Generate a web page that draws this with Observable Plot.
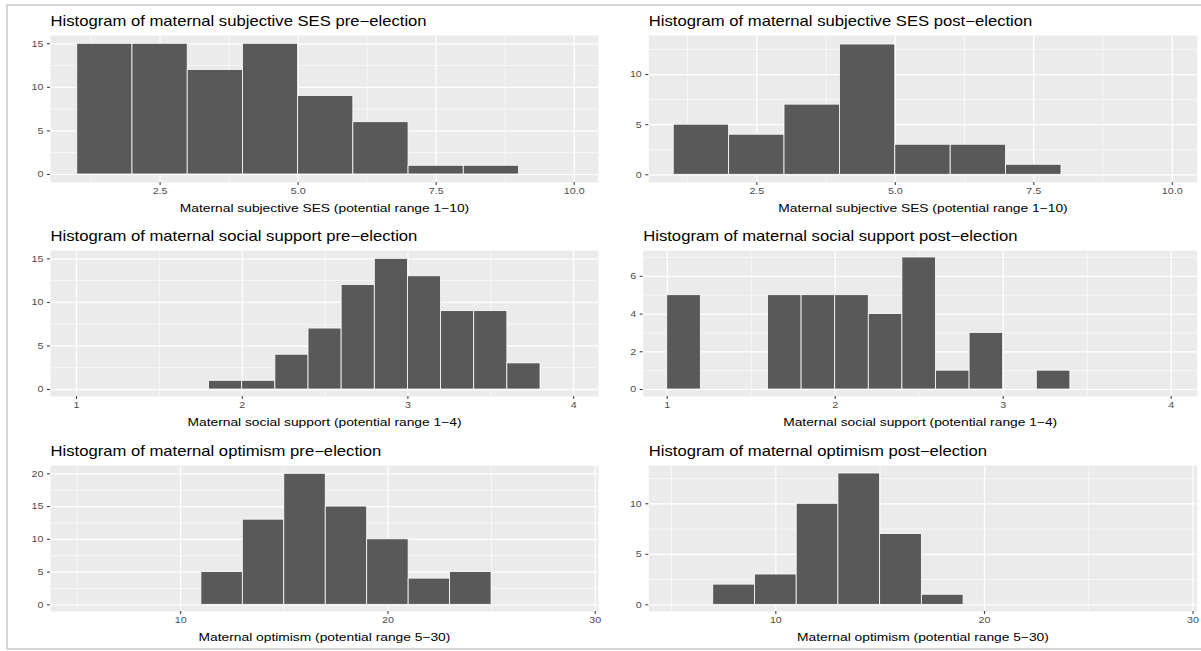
<!DOCTYPE html>
<html><head><meta charset="utf-8">
<script src="https://cdn.jsdelivr.net/npm/d3@7"></script>
<script src="https://cdn.jsdelivr.net/npm/@observablehq/plot@0.6"></script>
<style>
body{margin:0;background:#fff;overflow:hidden;width:1201px;height:651px;position:relative;font-family:"Liberation Sans",Arial,sans-serif;}
#frame{position:absolute;left:6px;top:4px;width:1300px;height:646px;border:2px solid #d6d6d6;box-sizing:border-box;}
.panel{position:absolute;}
</style></head><body>
<div id="frame"></div>
<script>
// ---- data ----
const titles = [
  "Histogram of maternal subjective SES pre\u2212election",
  "Histogram of maternal subjective SES post\u2212election",
  "Histogram of maternal social support pre\u2212election",
  "Histogram of maternal social support post\u2212election",
  "Histogram of maternal optimism pre\u2212election",
  "Histogram of maternal optimism post\u2212election"
];
const xTitles = [
  "Maternal subjective SES (potential range 1\u221210)",
  "Maternal subjective SES (potential range 1\u221210)",
  "Maternal social support (potential range 1\u22124)",
  "Maternal social support (potential range 1\u22124)",
  "Maternal optimism (potential range 5\u221230)",
  "Maternal optimism (potential range 5\u221230)"
];

const sesBinWidth = 1;
const sesPreBinStart = [1, 2, 3, 4, 5, 6, 7, 8];
const sesPreCount = [15, 15, 12, 15, 9, 6, 1, 1];
const sesPostBinStart = [1, 2, 3, 4, 5, 6, 7];
const sesPostCount = [5, 4, 7, 13, 3, 3, 1];

const supportBinWidth = 0.2;
const supportPreBinStart = [1.8, 2.0, 2.2, 2.4, 2.6, 2.8, 3.0, 3.2, 3.4, 3.6];
const supportPreCount = [1, 1, 4, 7, 12, 15, 13, 9, 9, 3];
const supportPostBinStart = [1.0, 1.6, 1.8, 2.0, 2.2, 2.4, 2.6, 2.8, 3.2];
const supportPostCount = [5, 5, 5, 5, 4, 7, 1, 3, 1];

const optimismBinWidth = 2;
const optimismPreBinStart = [11, 13, 15, 17, 19, 21, 23];
const optimismPreCount = [5, 13, 20, 15, 10, 4, 5];
const optimismPostBinStart = [7, 9, 11, 13, 15, 17];
const optimismPostCount = [2, 3, 10, 13, 7, 1];

const sesTicks = [2.5, 5, 7.5, 10];
const sesMinor = [1.25, 3.75, 6.25, 8.75];
const supportTicks = [1, 2, 3, 4];
const supportMinor = [1.5, 2.5, 3.5];
const optimismTicks = [10, 20, 30];
const optimismMinor = [5, 15, 25];
const countTicks15 = [0, 5, 10, 15];
const countTicks10 = [0, 5, 10];
const countTicks6 = [0, 2, 4, 6];
const countTicks20 = [0, 5, 10, 15, 20];

// ---- layout ----
const FONT = "Liberation Sans, Arial, Helvetica, sans-serif";
const STRETCH = 1.19; // the reference image is wider than tall: glyphs are stretched horizontally
const panels = [
  {t:0, left:0,   w:600, ml:50,   mr:2,   top:35,  ph:147, starts:sesPreBinStart, counts:sesPreCount, bw:sesBinWidth,
   xd:[0.515,10.44], yd:[-0.92,15.95], xt:sesTicks, xm:sesMinor, yt:countTicks15, ym:[2.5,7.5,12.5], fmt:d=>d.toFixed(1)},
  {t:1, left:600, w:601, ml:48.3, mr:4.3, top:35,  ph:147, starts:sesPostBinStart, counts:sesPostCount, bw:sesBinWidth,
   xd:[0.55,10.45], yd:[-0.77,13.9], xt:sesTicks, xm:sesMinor, yt:countTicks10, ym:[2.5,7.5,12.5], fmt:d=>d.toFixed(1)},
  {t:2, left:0,   w:600, ml:50,   mr:2,   top:250, ph:146, starts:supportPreBinStart, counts:supportPreCount, bw:supportBinWidth,
   xd:[0.843,4.15], yd:[-0.8,15.96], xt:supportTicks, xm:supportMinor, yt:countTicks15, ym:[2.5,7.5,12.5], fmt:d=>String(d)},
  {t:3, left:600, w:601, ml:42.7, mr:4.3, top:250, ph:146, starts:supportPostBinStart, counts:supportPostCount, bw:supportBinWidth,
   xd:[0.857,4.155], yd:[-0.37,7.37], xt:supportTicks, xm:supportMinor, yt:countTicks6, ym:[1,3,5,7], fmt:d=>String(d)},
  {t:4, left:0,   w:600, ml:50,   mr:2,   top:465, ph:146, starts:optimismPreBinStart, counts:optimismPreCount, bw:optimismBinWidth,
   xd:[3.72,30.16], yd:[-1.02,21.27], xt:optimismTicks, xm:optimismMinor, yt:countTicks20, ym:[2.5,7.5,12.5,17.5], fmt:d=>String(d)},
  {t:5, left:600, w:601, ml:48.3, mr:4.3, top:465, ph:146, starts:optimismPostBinStart, counts:optimismPostCount, bw:optimismBinWidth,
   xd:[3.91,30.2], yd:[-0.66,13.79], xt:optimismTicks, xm:optimismMinor, yt:countTicks10, ym:[2.5,7.5,12.5], fmt:d=>String(d)}
];

const MT = 35, MB = 38;
for (const p of panels) {
  const rows = p.starts.map((s, i) => ({x1: s, x2: Math.round((s + p.bw) * 1000) / 1000, y1: 0, y2: p.counts[i]}));
  const chart = Plot.plot({
    width: p.w, height: MT + p.ph + MB,
    marginTop: MT, marginBottom: MB, marginLeft: p.ml, marginRight: p.mr,
    style: {fontFamily: FONT, background: "transparent", overflow: "visible"},
    x: {domain: p.xd}, y: {domain: p.yd},
    marks: [
      Plot.frame({fill: "#EBEBEB", stroke: "none"}),
      Plot.ruleX(p.xm, {stroke: "white", strokeWidth: 0.6}),
      Plot.ruleY(p.ym, {stroke: "white", strokeWidth: 0.6}),
      Plot.ruleX(p.xt, {stroke: "white", strokeWidth: 1.2}),
      Plot.ruleY(p.yt, {stroke: "white", strokeWidth: 1.2}),
      Plot.rect(rows, {x1: "x1", x2: "x2", y1: "y1", y2: "y2", fill: "#595959", stroke: "white", strokeWidth: 0.8}),
      Plot.axisX(p.xt, {tickSize: 3, tickPadding: 2.5, stroke: "#333", fill: "#4d4d4d", fontSize: 9, tickFormat: p.fmt, label: null}),
      Plot.axisY(p.yt, {tickSize: 3, tickPadding: 4, stroke: "#333", fill: "#4d4d4d", fontSize: 9, tickFormat: d => String(d), label: null}),
      Plot.text([titles[p.t]], {frameAnchor: "top-left", textAnchor: "start", lineAnchor: "bottom", dy: -9.5, fontSize: 14, fill: "black"}),
      Plot.text([xTitles[p.t]], {frameAnchor: "bottom", lineAnchor: "bottom", dy: 29, fontSize: 11.6, fill: "black"})
    ]
  });
  chart.classList.add("panel");
  chart.style.left = p.left + "px";
  chart.style.top = (p.top - MT) + "px";
  // stretch glyphs horizontally about their anchor point
  chart.querySelectorAll("text").forEach(t => {
    const tr = t.getAttribute("transform") || "";
    t.setAttribute("transform", (tr + " scale(" + STRETCH + ",1)").trim());
  });
  document.body.appendChild(chart);
}
</script>
</body></html>
